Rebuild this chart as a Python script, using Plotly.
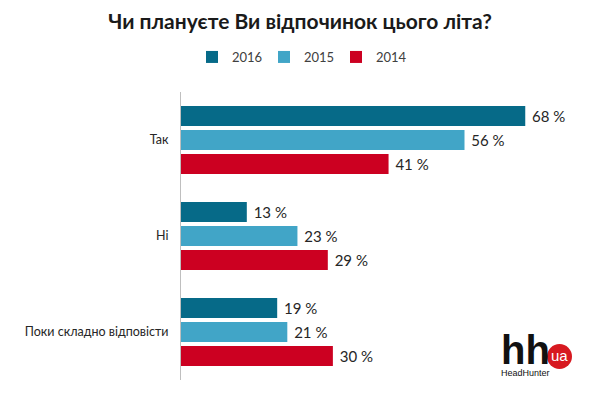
import plotly.graph_objects as go

categories = ["Так", "Ні", "Поки складно відповісти"]
years = ["2016", "2015", "2014"]
values_2016 = [68, 13, 19]
values_2015 = [56, 23, 21]
values_2014 = [41, 29, 30]
colors = ["#066a88", "#41a5c7", "#cc0021"]

# the page has an 8px body margin; figure is sized to fit inside the window
OFF = 8
W, H = 600 - OFF, 394 - OFF
PL, PT, PR, PB = 181, 92, 586, 380  # plot area in window pixels
L, T = PL - OFF, PT - OFF
R, B = W - (PR - OFF), H - (PB - OFF)
pw, ph = PR - PL, PB - PT

def px(x):
    return (x - PL) / pw

def py(y):
    return (PB - y) / ph

fig = go.Figure()
for name, vals, col in zip(years, [values_2016, values_2015, values_2014], colors):
    fig.add_trace(go.Bar(
        y=categories, x=vals, name=name, orientation="h",
        marker=dict(color=col, line=dict(width=0)),
        text=[f" {v} %" for v in vals], textposition="outside",
        textfont=dict(size=15, color="#262626", family="Lato"),
        cliponaxis=False,
    ))

fig.update_layout(
    width=W, height=H,
    margin=dict(l=L, r=R, t=T, b=B, autoexpand=False),
    paper_bgcolor="white", plot_bgcolor="white",
    barmode="group", bargap=0.25, bargroupgap=0.17,
    font=dict(family="Lato", color="#262626"),
    title=dict(text="<b>Чи плануєте Ви відпочинок цього літа?</b>",
               x=(300 - OFF) / W, xanchor="center", xref="container",
               y=1 - (22 - OFF) / H, yanchor="middle",
               font=dict(size=21, color="#1a1a1a", family="Lato")),
    legend=dict(orientation="h", x=(300 - OFF) / W, xanchor="center", xref="container",
                y=1 - (57 - OFF) / H, yanchor="middle", yref="container",
                font=dict(size=13, color="#404040"),
                itemwidth=30, entrywidth=27, entrywidthmode="pixels",
                traceorder="normal"),
    showlegend=True,
)
fig.update_xaxes(range=[0, 80], visible=False)
fig.update_yaxes(autorange="reversed", showline=True, linecolor="#bfbfbf", linewidth=1,
                 ticks="", showgrid=False, automargin=False,
                 tickfont=dict(size=12.5, color="#262626"),
                 ticklabelstandoff=9)

# logo
fig.add_annotation(text="<b><span style='font-size:40px'>hh</span></b><br>HeadHunter",
                   x=px(499), y=py(353), xref="paper", yref="paper",
                   xanchor="left", yanchor="middle", align="left", showarrow=False,
                   font=dict(size=9, color="#111111", family="Liberation Sans"))
fig.add_shape(type="circle", xref="paper", yref="paper",
              x0=px(547), x1=px(572), y0=py(369), y1=py(344),
              fillcolor="#d71920", line=dict(width=0))
fig.add_annotation(text="ua", x=px(559.5), y=py(355), xref="paper", yref="paper",
                   xanchor="center", yanchor="middle", showarrow=False,
                   font=dict(size=15, color="white", family="Liberation Sans"))

fig.write_html("out.html")
